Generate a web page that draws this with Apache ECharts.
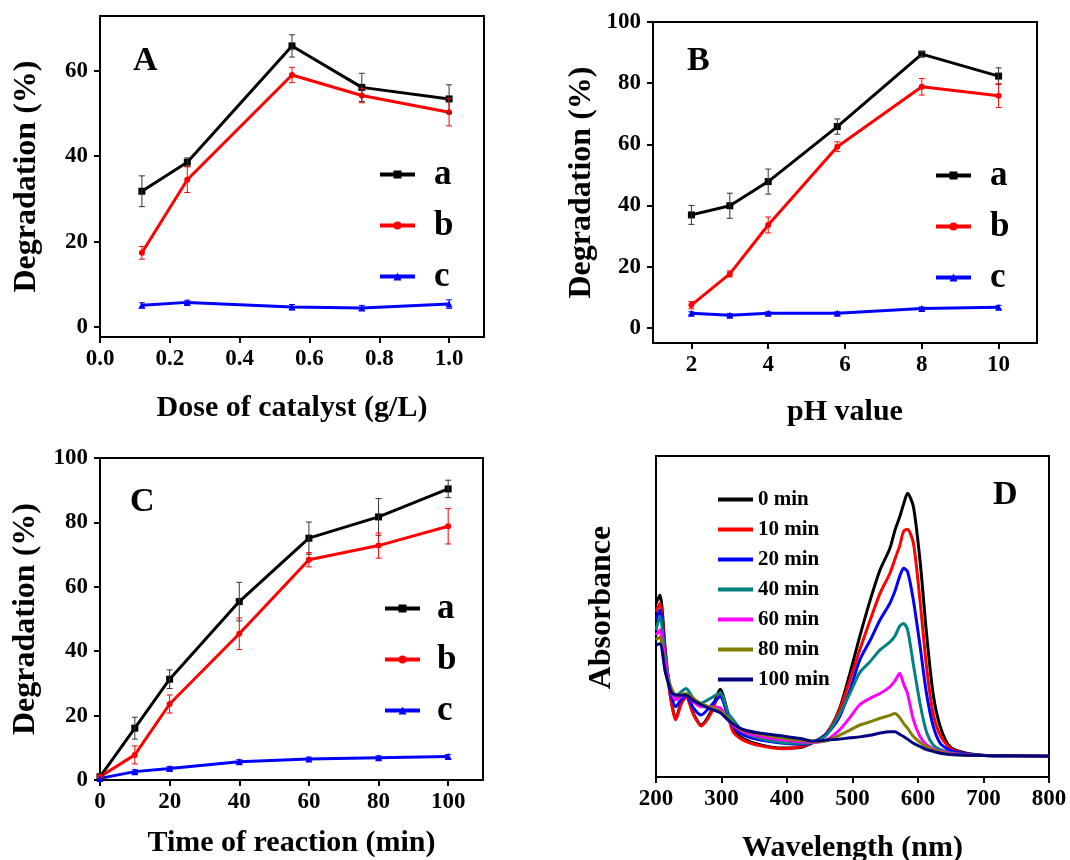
<!DOCTYPE html>
<html>
<head>
<meta charset="utf-8">
<script src="https://cdn.jsdelivr.net/npm/echarts@6/dist/echarts.min.js"></script>
<style>
  html, body { margin: 0; padding: 0; background: #fff; }
  #chart { width: 1070px; height: 860px; }
</style>
</head>
<body>
<div id="chart"></div>
<script>
//  Data

// A - dose of catalyst
var doseX = [0.12, 0.25, 0.55, 0.75, 1.0];
var doseA = [31.8, 38.6, 65.8, 56.1, 53.4];
var doseAErr = [3.6, 1.0, 2.6, 3.3, 3.3];
var doseB = [17.4, 34.5, 59.0, 54.2, 50.3];
var doseBErr = [1.5, 3.0, 1.8, 1.7, 3.2];
var doseC = [5.1, 5.8, 4.7, 4.5, 5.4];
var doseCErr = [0.6, 0.5, 0.6, 0.6, 1.0];

// B - pH
var phX = [2, 3, 4, 5.8, 8, 10];
var phA = [36.9, 39.9, 47.8, 65.8, 89.5, 82.3];
var phAErr = [3.1, 4.1, 4.1, 2.5, 0.8, 2.7];
var phB = [7.4, 17.6, 33.6, 59.2, 78.8, 75.9];
var phBErr = [1.2, 1.0, 2.6, 1.6, 2.7, 3.9];
var phC = [4.7, 4.1, 4.7, 4.7, 6.3, 6.7];
var phCErr = [0.5, 0.5, 0.5, 0.5, 0.5, 0.6];

// C - time of reaction
var timeX = [0, 10, 20, 40, 60, 80, 100];
var timeA = [1.0, 16.1, 31.3, 55.4, 75.1, 81.7, 90.4];
var timeAErr = [0, 3.4, 2.9, 6.0, 5.0, 5.7, 2.7];
var timeB = [1.0, 7.8, 23.6, 45.4, 68.4, 72.8, 78.8];
var timeBErr = [0, 2.8, 2.8, 4.9, 2.2, 3.9, 5.5];
var timeC = [0.5, 2.6, 3.6, 5.7, 6.5, 6.9, 7.3];
var timeCErr = [0, 0.6, 0.6, 0.6, 0.6, 0.6, 0.6];

// D - UV-vis spectra (arbitrary absorbance units)
var wavelength = [200, 206, 214, 219, 224, 230, 238, 246, 257, 269, 283, 298, 310, 318, 333, 360, 395, 420, 440, 460,
                  480, 496, 511, 527, 542, 557, 565, 572, 578, 584, 593, 603, 613, 623, 634, 649, 674, 700, 750, 800];
var abs0 = [0.541, 0.567, 0.40, 0.30, 0.23, 0.18, 0.23, 0.255, 0.198, 0.162, 0.20, 0.273, 0.198, 0.146, 0.12, 0.10, 0.09, 0.092, 0.108, 0.135,
            0.212, 0.323, 0.437, 0.551, 0.645, 0.712, 0.77, 0.81, 0.85, 0.884, 0.842, 0.676, 0.448, 0.26, 0.157, 0.094, 0.074, 0.068, 0.066, 0.065];
var abs10 = [0.515, 0.541, 0.39, 0.295, 0.225, 0.178, 0.225, 0.25, 0.195, 0.159, 0.195, 0.26, 0.19, 0.14, 0.115, 0.097, 0.088, 0.094, 0.108, 0.135,
             0.208, 0.302, 0.396, 0.489, 0.572, 0.634, 0.68, 0.72, 0.765, 0.772, 0.728, 0.551, 0.344, 0.199, 0.13, 0.09, 0.072, 0.067, 0.066, 0.065];
var abs20 = [0.489, 0.52, 0.38, 0.30, 0.25, 0.219, 0.24, 0.255, 0.215, 0.193, 0.22, 0.25, 0.19, 0.157, 0.131, 0.115, 0.105, 0.102, 0.108, 0.133,
             0.187, 0.27, 0.364, 0.426, 0.489, 0.541, 0.58, 0.625, 0.65, 0.64, 0.55, 0.41, 0.26, 0.16, 0.105, 0.083, 0.072, 0.067, 0.066, 0.065];
var abs40 = [0.458, 0.50, 0.38, 0.31, 0.27, 0.25, 0.265, 0.276, 0.245, 0.23, 0.245, 0.262, 0.20, 0.178, 0.141, 0.12, 0.107, 0.105, 0.108, 0.13,
             0.195, 0.26, 0.325, 0.36, 0.396, 0.42, 0.44, 0.47, 0.478, 0.46, 0.35, 0.23, 0.14, 0.10, 0.085, 0.076, 0.07, 0.067, 0.066, 0.065];
var abs60 = [0.442, 0.458, 0.36, 0.30, 0.26, 0.24, 0.25, 0.255, 0.235, 0.219, 0.219, 0.215, 0.178, 0.16, 0.141, 0.126, 0.115, 0.11, 0.108, 0.115,
             0.146, 0.185, 0.225, 0.245, 0.26, 0.281, 0.30, 0.323, 0.29, 0.26, 0.178, 0.126, 0.10, 0.088, 0.08, 0.074, 0.069, 0.067, 0.066, 0.065];
var abs80 = [0.427, 0.437, 0.33, 0.30, 0.275, 0.255, 0.258, 0.26, 0.245, 0.228, 0.218, 0.205, 0.185, 0.165, 0.145, 0.133, 0.121, 0.115, 0.11, 0.113,
             0.13, 0.146, 0.162, 0.172, 0.183, 0.192, 0.198, 0.185, 0.167, 0.152, 0.126, 0.108, 0.094, 0.085, 0.078, 0.072, 0.068, 0.067, 0.066, 0.065];
var abs100 = [0.411, 0.415, 0.33, 0.29, 0.262, 0.256, 0.255, 0.255, 0.238, 0.225, 0.212, 0.20, 0.178, 0.164, 0.148, 0.136, 0.127, 0.12, 0.112, 0.115,
              0.118, 0.122, 0.125, 0.13, 0.137, 0.141, 0.141, 0.133, 0.126, 0.118, 0.105, 0.095, 0.085, 0.08, 0.074, 0.07, 0.068, 0.067, 0.066, 0.065];
var timeLabels = ['0 min', '10 min', '20 min', '40 min', '60 min', '80 min', '100 min'];
var spectra = [abs0, abs10, abs20, abs40, abs60, abs80, abs100];

// tick labels
var doseTicks = [0, 0.2, 0.4, 0.6, 0.8, 1.0];
var doseYTicks = [0, 20, 40, 60];
var phTicks = [2, 4, 6, 8, 10];
var pctTicks = [0, 20, 40, 60, 80, 100];
var timeTicks = [0, 20, 40, 60, 80, 100];
var waveTicks = [200, 300, 400, 500, 600, 700, 800];

//  Styles

var FONT = "'Liberation Serif', 'Times New Roman', serif";
var specColors = ['#000000', '#ff0000', '#0000ff', '#008080', '#ff00ff', '#808000', '#000080'];
var seriesStyle = {
  a: {color: '#000000', symbol: 'rect', size: 7},
  b: {color: '#ff0000', symbol: 'circle', size: 6},
  c: {color: '#0000ff', symbol: 'triangle', size: 7}
};

function pairs(xs, ys, errs) {
  return xs.map(function(x, i) {
    return errs ? [x, ys[i], errs[i]] : [x, ys[i]];
  });
}

function renderErr(params, api) {
  var x = api.value(0), y = api.value(1), e = api.value(2);
  if (!e) return null;
  var top = api.coord([x, y + e]);
  var bot = api.coord([x, y - e]);
  var color = api.visual('color');
  var hw = 3;
  var st = {stroke: color, lineWidth: 1};
  return {
    type: 'group',
    children: [
      {type: 'line', shape: {x1: top[0], y1: top[1], x2: bot[0], y2: bot[1]}, style: st},
      {type: 'line', shape: {x1: top[0] - hw, y1: top[1], x2: top[0] + hw, y2: top[1]}, style: st},
      {type: 'line', shape: {x1: bot[0] - hw, y1: bot[1], x2: bot[0] + hw, y2: bot[1]}, style: st}
    ]
  };
}

function valueAxis(opt) {
  return {
    type: 'value',
    gridIndex: opt.grid,
    min: opt.min,
    max: opt.max,
    name: opt.name,
    nameLocation: 'middle',
    nameGap: opt.nameGap,
    nameTextStyle: {fontFamily: FONT, fontWeight: 'bold', fontSize: opt.nameSize, color: '#000', padding: opt.namePad || 0},
    splitLine: {show: false},
    axisLine: {show: true, onZero: false, lineStyle: {color: '#000', width: 2}},
    axisTick: {show: !!opt.ticks, customValues: opt.ticks, length: 6, lineStyle: {color: '#000', width: 2}},
    axisLabel: {
      show: !!opt.ticks,
      customValues: opt.ticks,
      margin: opt.margin,
      fontFamily: FONT, fontWeight: 'bold', fontSize: 23, color: '#000',
      formatter: opt.fmt
    }
  };
}

function dataSeries(panel, name, xs, ys, errs) {
  var s = seriesStyle[name];
  return [{
    name: name,
    type: 'line',
    xAxisIndex: panel, yAxisIndex: panel,
    data: pairs(xs, ys),
    symbol: s.symbol,
    symbolSize: s.size,
    showSymbol: true,
    lineStyle: {color: s.color, width: 3},
    itemStyle: {color: s.color},
    animation: false,
    z: 3
  }, {
    name: name + ' err',
    type: 'custom',
    xAxisIndex: panel, yAxisIndex: panel,
    data: pairs(xs, ys, errs),
    encode: {x: 0, y: 1},
    itemStyle: {color: name === 'a' ? '#333333' : s.color},
    renderItem: renderErr,
    animation: false,
    z: 4
  }];
}

function abcLegend(left, top, padLeft) {
  return {
    data: ['a', 'b', 'c'],
    orient: 'vertical',
    left: left, top: top,
    itemWidth: 35, itemHeight: 10,
    itemGap: 16,
    selectedMode: false,
    lineStyle: {width: 4},
    textStyle: {fontFamily: FONT, fontWeight: 'bold', fontSize: 35, color: '#000', padding: [0, 0, 0, padLeft]}
  };
}

var grids = [
  {left: 100, top: 16, width: 384, height: 321},
  {left: 653, top: 22, width: 384, height: 321},
  {left: 100, top: 458, width: 383, height: 322},
  {left: 656, top: 456, width: 393, height: 321}
].map(function(g) {
  g.show = true;
  g.borderColor = '#000';
  g.borderWidth = 2;
  g.containLabel = false;
  g.outerBoundsMode = 'none';
  return g;
});

var xAxes = [
  valueAxis({grid: 0, min: 0, max: 1.1, ticks: doseTicks, margin: 11, name: 'Dose of catalyst (g/L)', nameGap: 56, nameSize: 30,
             fmt: function(v) { return v.toFixed(1); }}),
  valueAxis({grid: 1, min: 1, max: 11, ticks: phTicks, margin: 11, name: 'pH value', nameGap: 54, nameSize: 30}),
  valueAxis({grid: 2, min: 0, max: 110, ticks: timeTicks, margin: 11, name: 'Time of reaction (min)', nameGap: 48, nameSize: 30}),
  valueAxis({grid: 3, min: 200, max: 800, ticks: waveTicks, margin: 11, name: 'Wavelength (nm)', nameGap: 56, nameSize: 30})
];

var yAxes = [
  valueAxis({grid: 0, min: -2.3, max: 72.8, ticks: doseYTicks, margin: 12, name: 'Degradation (%)', nameGap: 57, nameSize: 32}),
  valueAxis({grid: 1, min: -5, max: 100, ticks: pctTicks, margin: 12, name: 'Degradation (%)', nameGap: 55, nameSize: 32}),
  valueAxis({grid: 2, min: 0, max: 100, ticks: pctTicks, margin: 12, name: 'Degradation (%)', nameGap: 58, nameSize: 32}),
  valueAxis({grid: 3, min: 0, max: 1, ticks: null, margin: 12, name: 'Absorbance', nameGap: 38, nameSize: 32, namePad: [0, 0, 0, 18]})
];

var series = [].concat(
  dataSeries(0, 'a', doseX, doseA, doseAErr),
  dataSeries(0, 'b', doseX, doseB, doseBErr),
  dataSeries(0, 'c', doseX, doseC, doseCErr),
  dataSeries(1, 'a', phX, phA, phAErr),
  dataSeries(1, 'b', phX, phB, phBErr),
  dataSeries(1, 'c', phX, phC, phCErr),
  dataSeries(2, 'a', timeX, timeA, timeAErr),
  dataSeries(2, 'b', timeX, timeB, timeBErr),
  dataSeries(2, 'c', timeX, timeC, timeCErr)
);

spectra.forEach(function(ys, i) {
  series.push({
    name: timeLabels[i],
    type: 'line',
    xAxisIndex: 3, yAxisIndex: 3,
    data: pairs(wavelength, ys),
    symbol: 'none',
    smooth: 0.25,
    lineStyle: {color: specColors[i], width: 3},
    itemStyle: {color: specColors[i]},
    animation: false
  });
});

var letters = [['A', 133, 61], ['B', 687, 61], ['C', 130, 502], ['D', 993, 495]];

//  Chart

var myChart = echarts.init(document.getElementById('chart'), null, {renderer: 'canvas'});
myChart.setOption({
  backgroundColor: '#fff',
  animation: false,
  grid: grids,
  xAxis: xAxes,
  yAxis: yAxes,
  legend: [
    abcLegend(373, 152, 14),
    abcLegend(929, 153, 14),
    abcLegend(378, 586, 12),
    {
      data: timeLabels,
      orient: 'vertical',
      left: 711, top: 484,
      itemWidth: 35, itemHeight: 4,
      itemGap: 9,
      selectedMode: false,
      lineStyle: {width: 4},
      textStyle: {fontFamily: FONT, fontWeight: 'bold', fontSize: 21, color: '#000'}
    }
  ],
  graphic: letters.map(function(l) {
    return {
      type: 'text',
      x: l[1], y: l[2],
      style: {text: l[0], font: 'bold 34px ' + FONT, fill: '#000', textAlign: 'left', textVerticalAlign: 'middle'}
    };
  }),
  series: series
});
</script>
</body>
</html>
